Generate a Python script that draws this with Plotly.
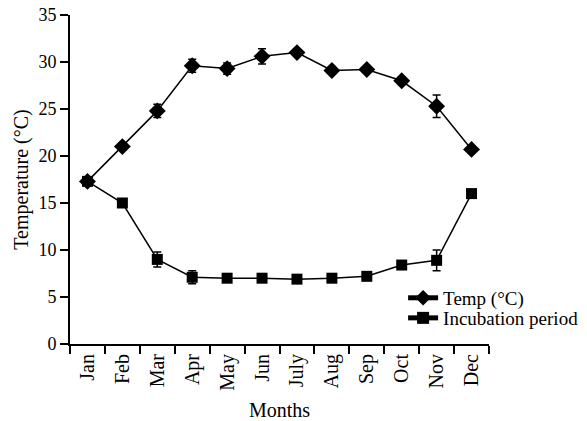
import plotly.graph_objects as go

months = ["Jan", "Feb", "Mar", "Apr", "May", "Jun", "July", "Aug", "Sep", "Oct", "Nov", "Dec"]
temp = [17.3, 21.0, 24.8, 29.6, 29.3, 30.6, 31.0, 29.1, 29.2, 28.0, 25.3, 20.7]
temp_err = [0.0, 0.4, 0.7, 0.7, 0.6, 0.8, 0.3, 0.2, 0.2, 0.4, 1.2, 0.2]
incub = [17.3, 15.0, 9.0, 7.1, 7.0, 7.0, 6.9, 7.0, 7.2, 8.4, 8.9, 16.0]
incub_err = [0.0, 0.2, 0.8, 0.7, 0.2, 0.2, 0.2, 0.2, 0.2, 0.2, 1.1, 0.2]

FONT = "Liberation Serif"

fig = go.Figure()
fig.add_trace(go.Scatter(
    x=months, y=temp, name="Temp (°C)", mode="lines+markers",
    line=dict(color="black", width=1.5),
    marker=dict(symbol="diamond", size=13, color="black"),
    error_y=dict(type="data", array=temp_err, visible=True, color="black", thickness=1.5, width=4),
    legend="legend",
))
fig.add_trace(go.Scatter(
    x=months, y=incub, name="Incubation period", mode="lines+markers",
    line=dict(color="black", width=1.5),
    marker=dict(symbol="square", size=11, color="black"),
    error_y=dict(type="data", array=incub_err, visible=True, color="black", thickness=1.5, width=4),
    legend="legend2",
))

leg_common = dict(xanchor="left", yanchor="middle", font=dict(family=FONT, size=19),
                  bgcolor="rgba(0,0,0,0)", itemsizing="constant")

fig.update_layout(
    width=587, height=421,
    margin=dict(l=70, r=98, t=15, b=77, autoexpand=False),
    paper_bgcolor="white", plot_bgcolor="white",
    font=dict(family=FONT, color="black", size=18),
    showlegend=True,
    legend=dict(x=0.795, y=0.14, **leg_common),
    legend2=dict(x=0.795, y=0.079, **leg_common),
)
fig.update_xaxes(
    type="category", categoryorder="array", categoryarray=months,
    range=[-0.5, 11.5], tickson="boundaries", automargin=False,
    showline=True, linecolor="black", linewidth=2,
    ticks="outside", ticklen=8, tickwidth=2, tickcolor="black",
    tickangle=-90, tickfont=dict(family=FONT, size=20),
    showgrid=False, zeroline=False,
    title=dict(text="Months", font=dict(family=FONT, size=20), standoff=14),
)
fig.update_yaxes(
    range=[0, 35], tickvals=[0, 5, 10, 15, 20, 25, 30, 35], automargin=False,
    ticklabeloverflow="allow",
    showline=True, linecolor="black", linewidth=2,
    ticks="outside", ticklen=8, tickwidth=2, tickcolor="black",
    tickfont=dict(family=FONT, size=18),
    showgrid=False, zeroline=False,
    title=dict(text="Temperature (°C)", font=dict(family=FONT, size=20), standoff=4),
)

# remove the browser's default 8px body margin so the figure sits at the page origin
fig.write_html("out.html",
               config={"displayModeBar": False},
               post_script="document.body.style.margin='0';document.body.style.overflow='hidden';")
